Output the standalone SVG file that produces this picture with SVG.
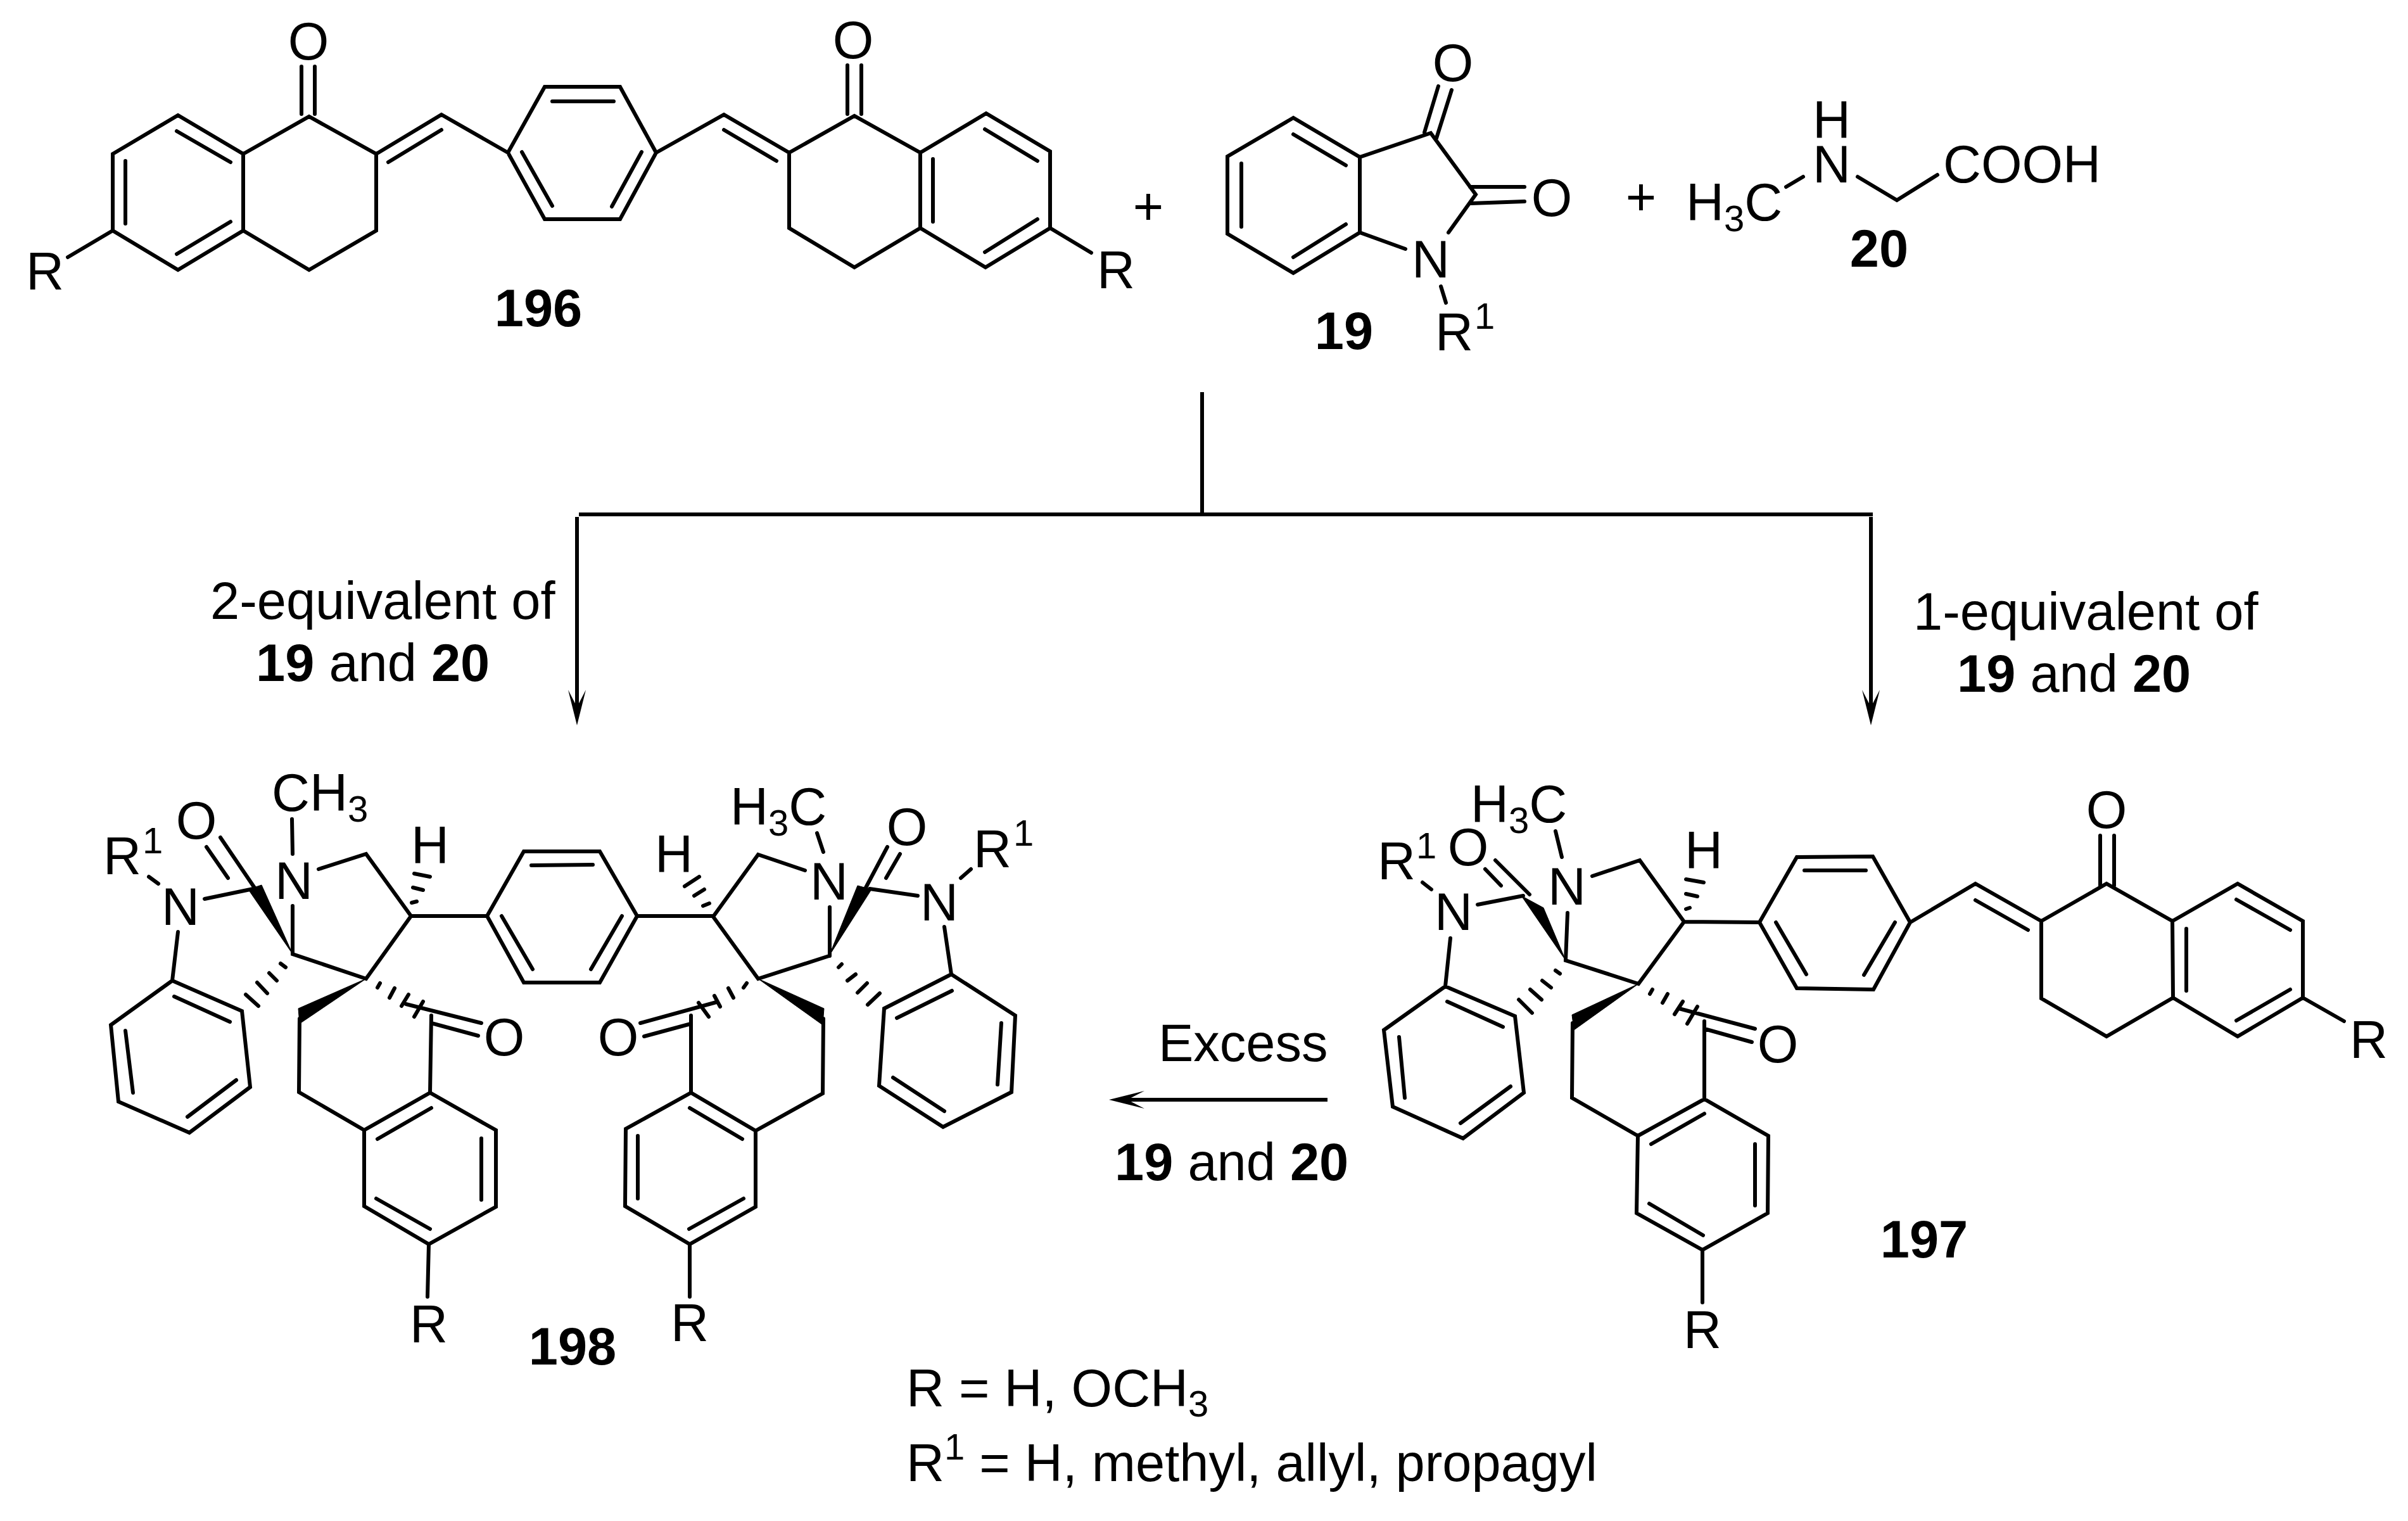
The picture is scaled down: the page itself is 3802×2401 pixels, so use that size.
<svg xmlns="http://www.w3.org/2000/svg" width="3802" height="2401" viewBox="0 0 3802 2401">
<defs>
<style>
text{font-family:"Liberation Sans",Arial,sans-serif;font-size:83px;fill:#000}
.m{text-anchor:middle}
.b{font-weight:bold}
.s{font-size:58px}
.bond{fill:none;stroke:#000;stroke-width:6;stroke-linecap:round;stroke-linejoin:miter}
.wedge{fill:#000;stroke:#000;stroke-width:1}
.conn{fill:none;stroke:#000;stroke-width:6}
</style>
<marker id="arr" markerUnits="userSpaceOnUse" viewBox="0 0 56 28" refX="27" refY="14" markerWidth="56" markerHeight="28" orient="auto"><path d="M56,14 L0,0 L27,14 L0,28 Z" fill="#000"/></marker>
</defs>
<rect width="3802" height="2401" fill="#fff"/>
<g id="connectors">
<path class="conn" d="M1898,619 V812"/>
<path class="conn" d="M914,812 H2957"/>
<path class="conn" marker-end="url(#arr)" d="M911,816 V1116"/>
<path class="conn" marker-end="url(#arr)" d="M2954,816 V1116"/>
<path class="conn" marker-end="url(#arr)" d="M2096,1736 H1780"/>
</g>
<g id="compound-196">
<path class="bond" d="M178,243 L281,182 L384,243 L384,364 L281,426 L178,364 Z M198,254 V353 M279,207 L364,256 M364,350 L279,401 M384,243 L488,184 L594,243 V364 L488,426 L384,364 M178,364 L107,406 M476,105 V180 M497,105 V180 M594,243 L697,181 L802,241 L860,137 H979 L1036,241 L979,346 H860 L802,241 M697,205 L613,256 M872,160 H969 M824,240 L872,325 M1013,240 L966,326 M1036,241 L1143,181 L1246,241 M1246,241 L1349,183 L1453,241 L1453,360 L1349,422 L1246,360 Z M1143,205 L1226,254 M1453,241 L1557,179 L1658,239 V360 L1556,422 L1453,360 M1555,204 L1638,254 M1473,251 V350 M1638,346 L1555,398 M1338,103 V180 M1360,103 V180 M1658,360 L1723,399"/>
<text class="m" x="487" y="94">O</text>
<text class="m" x="1347" y="92">O</text>
<text x="41" y="457">R</text>
<text x="1732" y="455">R</text>
<text class="b m" x="850" y="515">196</text>
<text class="m" x="1813" y="354">+</text>
</g>
<g id="compound-19">
<path class="bond" d="M2042,186 L1938,247 V369 L2042,431 L2147,367 V248 Z M2042,212 L2125,261 M1960,258 V358 M2125,354 L2042,406 M2147,248 L2259,210 L2330,307 L2287,367 M2147,367 L2219,393 M2249,209 L2271,136 M2268,218 L2292,142 M2321,295 H2407 M2323,321 L2407,318 M2275,452 L2283,478"/>
<text class="m" x="2294" y="128">O</text>
<text class="m" x="2450" y="341">O</text>
<text class="m" x="2259" y="438">N</text>
<text x="2266" y="553">R<tspan class="s" dx="2" dy="-34">1</tspan></text>
<text class="b m" x="2122" y="551">19</text>
<text class="m" x="2591" y="339">+</text>
</g>
<g id="compound-20">
<path class="bond" d="M2820,295 L2847,279 M2933,279 L2995,316 L3059,276"/>
<text x="2662" y="348">H<tspan class="s" dy="17">3</tspan><tspan dy="-17">C</tspan></text>
<text class="m" x="2892" y="288">N</text>
<text class="m" x="2892" y="218">H</text>
<text x="3068" y="288">COOH</text>
<text class="b m" x="2967" y="421">20</text>
</g>
<g id="compound-198">
<path class="bond" d="M272,1548 L382,1596 L395,1716 L299,1788 L187,1739 L175,1618 Z M275,1573 L363,1613 M198,1627 L210,1725 M373,1705 L296,1763 M281,1471 L272,1548 M323,1419 L400,1403 M348,1322 L403,1403 M326,1337 L360,1386 M235,1384 L250,1395 M461,1293 L462,1348 M462,1430 V1506 L578,1545 L649,1446 L578,1348 L503,1372 M649,1446 H769 M650,1425 L658,1423 M652,1401 L668,1405 M654,1379 L679,1384 M769,1446 L827,1344 H947 L1006,1446 L947,1551 H827 Z M839,1366 L936,1365 M792,1446 L841,1530 M982,1446 L933,1530 M1006,1446 H1126 M473,1608 L472,1724 L575,1784 M575,1784 L679,1725 L783,1784 V1905 L677,1964 L575,1904 Z M596,1798 L681,1749 M760,1797 V1894 M594,1892 L679,1940 M681,1603 L679,1725 M641,1585 L760,1615 M681,1615 L755,1635 M596,1559 L600,1552 M615,1575 L623,1560 M634,1588 L645,1570 M654,1605 L668,1581 M443,1521 L451,1527 M425,1536 L437,1548 M406,1551 L422,1568 M388,1570 L408,1588 M677,1964 L675,2047"/>
<polygon class="wedge" points="462,1506 392,1404 413,1397"/>
<polygon class="wedge" points="578,1545 471,1592 473,1616"/>
<path class="bond" d="M1126,1447 L1197,1349 L1271,1374 M1126,1447 L1197,1545 L1309,1509 M1310,1432 V1509 M1290,1315 L1300,1345 M1401,1337 L1366,1403 M1421,1348 L1399,1386 M1373,1403 L1449,1414 M1517,1386 L1533,1372 M1491,1463 L1502,1538 M1502,1538 L1603,1603 L1597,1724 L1489,1779 L1388,1714 L1396,1592 Z M1503,1564 L1416,1607 M1581,1615 L1575,1712 M1491,1754 L1410,1701 M1324,1527 L1329,1522 M1338,1548 L1351,1538 M1354,1567 L1369,1552 M1370,1586 L1389,1568 M1110,1430 L1120,1426 M1096,1414 L1112,1404 M1081,1399 L1104,1384 M1300,1608 L1299,1726 L1193,1785 M1193,1785 L1091,1725 L988,1782 L987,1904 L1089,1964 L1193,1905 Z M1172,1798 L1089,1749 M1088,1940 L1174,1892 M1007,1793 V1892 M1091,1603 V1725 M1011,1615 L1131,1582 M1017,1636 L1091,1616 M1174,1559 L1179,1552 M1150,1560 L1158,1575 M1128,1572 L1137,1589 M1103,1583 L1119,1605 M1089,1964 V2047"/>
<polygon class="wedge" points="1309,1509 1354,1398 1376,1404"/>
<polygon class="wedge" points="1197,1545 1301,1592 1299,1618"/>
<text class="m" x="285" y="1460">N</text>
<text class="m" x="310" y="1324">O</text>
<text x="163" y="1380">R<tspan class="s" dx="2" dy="-33">1</tspan></text>
<text class="m" x="464" y="1419">N</text>
<text x="429" y="1280">CH<tspan class="s" dy="17">3</tspan></text>
<text class="m" x="679" y="1363">H</text>
<text class="m" x="796" y="1666">O</text>
<text class="m" x="677" y="2119">R</text>
<text class="b m" x="904" y="2154">198</text>
<text class="m" x="1309" y="1420">N</text>
<text x="1153" y="1302">H<tspan class="s" dy="17">3</tspan><tspan dy="-17">C</tspan></text>
<text class="m" x="1432" y="1334">O</text>
<text class="m" x="1483" y="1453">N</text>
<text x="1537" y="1369">R<tspan class="s" dx="3" dy="-34">1</tspan></text>
<text class="m" x="1064" y="1377">H</text>
<text class="m" x="976" y="1666">O</text>
<text class="m" x="1089" y="2117">R</text>
</g>
<g id="compound-197">
<path class="bond" d="M2282,1557 L2392,1604 L2406,1725 L2310,1797 L2199,1747 L2185,1626 Z M2285,1581 L2373,1621 M2209,1637 L2218,1733 M2385,1715 L2306,1773 M2290,1481 L2282,1557 M2333,1428 L2405,1414 M2361,1358 L2415,1412 M2345,1372 L2370,1398 M2246,1393 L2260,1404 M2475,1441 L2472,1516 L2587,1553 L2659,1455 L2589,1358 L2514,1383 M2456,1312 L2466,1353 M2659,1455 L2778,1456 M2662,1435 L2668,1433 M2662,1411 L2680,1415 M2662,1388 L2690,1393 M2778,1456 L2837,1353 L2957,1352 L3016,1456 L2958,1562 L2837,1560 Z M2849,1374 H2946 M2804,1456 L2852,1538 M2992,1456 L2943,1539 M2483,1615 L2482,1733 L2586,1793 M2586,1793 L2691,1735 L2792,1793 L2791,1915 L2688,1973 L2584,1915 Z M2607,1806 L2691,1758 M2771,1806 V1903 M2604,1900 L2689,1950 M2691,1612 V1735 M2651,1592 L2771,1624 M2691,1624 L2766,1645 M2605,1569 L2609,1562 M2625,1583 L2633,1569 M2644,1601 L2657,1581 M2664,1616 L2680,1589 M2456,1532 L2463,1537 M2435,1548 L2449,1559 M2416,1562 L2434,1578 M2398,1578 L2419,1599 M2688,1973 V2056 M3016,1456 L3119,1395 L3223,1454 M3223,1454 L3326,1395 L3430,1454 L3431,1575 L3326,1636 L3223,1576 Z M3119,1421 L3202,1468 M3430,1454 L3533,1395 L3636,1454 V1575 L3533,1636 L3431,1575 M3531,1420 L3616,1468 M3452,1466 V1564 M3616,1562 L3531,1611 M3316,1319 V1398 M3338,1319 V1398 M3636,1575 L3701,1612"/>
<polygon class="wedge" points="2472,1516 2402,1414 2437,1433"/>
<polygon class="wedge" points="2587,1553 2482,1602 2485,1626"/>
<text class="m" x="2295" y="1468">N</text>
<text class="m" x="2318" y="1366">O</text>
<text x="2175" y="1388">R<tspan class="s" dx="1" dy="-33">1</tspan></text>
<text class="m" x="2474" y="1428">N</text>
<text x="2322" y="1298">H<tspan class="s" dy="17">3</tspan><tspan dy="-17">C</tspan></text>
<text class="m" x="2690" y="1371">H</text>
<text class="m" x="2807" y="1677">O</text>
<text class="m" x="2688" y="2128">R</text>
<text class="b m" x="3038" y="1985">197</text>
<text class="m" x="3326" y="1307">O</text>
<text x="3710" y="1670">R</text>
</g>
<g id="labels">
<text x="332" y="977">2-equivalent of</text>
<text x="404" y="1075"><tspan class="b">19</tspan> and <tspan class="b">20</tspan></text>
<text x="3021" y="994">1-equivalent of</text>
<text x="3090" y="1092"><tspan class="b">19</tspan> and <tspan class="b">20</tspan></text>
<text x="1829" y="1675">Excess</text>
<text x="1760" y="1863"><tspan class="b">19</tspan> and <tspan class="b">20</tspan></text>
<text x="1431" y="2220">R = H, OCH<tspan class="s" dy="16">3</tspan></text>
<text x="1431" y="2338">R<tspan class="s" dy="-34">1</tspan><tspan dy="34"> = H, methyl, allyl, propagyl</tspan></text>
</g>
</svg>
